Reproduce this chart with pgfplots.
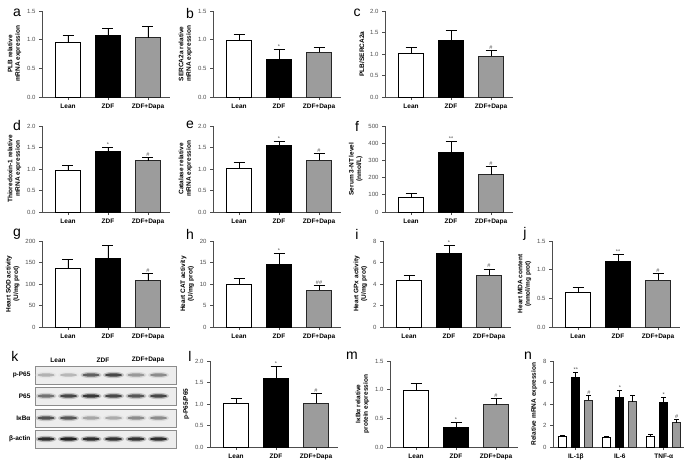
\documentclass[border=0pt]{standalone}
\usepackage{fontspec}
\setmainfont{Liberation Sans}
\usepackage{pgfplots}
\pgfplotsset{compat=1.18}

\definecolor{axgray}{HTML}{4D4D4D}
\definecolor{dapa}{HTML}{9C9C9C}

\pgfplotsset{
  panel/.style={
    scale only axis, width=128pt, height=86pt,
    anchor=south west,
    axis x line*=bottom, axis y line*=left,
    axis line style={axgray, line width=0.9pt},
    xmin=-0.65, xmax=2.55, ymin=0,
    xtick={0,1,2}, xticklabels={Lean,ZDF,ZDF+Dapa},
    xticklabel style={font=\fontsize{6.5}{7}\selectfont\bfseries},
    yticklabel style={font=\fontsize{6}{7}\selectfont, text=axgray},
    ylabel style={font=\fontsize{6.5}{7.5}\selectfont\bfseries, align=center},
    ylabel shift=-1pt,
    tick align=outside, major tick length=3pt,
    tick style={axgray, line width=0.8pt},
    /pgf/number format/assume math mode=true,
    clip=false,
  },
  dec/.style={yticklabel style={/pgf/number format/.cd, fixed, fixed zerofill, precision=1}},
  bstyle/.style={ybar, bar width=0.62, bar shift=0pt, line width=0.9pt,
    error bars/y dir=plus, error bars/y explicit,
    error bars/error mark options={rotate=90, mark size=5.5pt, line width=0.9pt, black},
    error bars/error bar style={line width=0.9pt, black}},
  wbar/.style={bstyle, draw=black, fill=white},
  kbar/.style={bstyle, draw=black, fill=black},
  gbar/.style={bstyle, draw=black!85, fill=dapa},
}
\newcommand{\sig}[3]{\node[font=\fontsize{5.5}{5.5}\selectfont, text=axgray, anchor=south, inner sep=0.8pt] at (axis cs:#1,#2) {#3};}
\newcommand{\plet}[3]{\node[font=\fontsize{14}{14}\selectfont] at (#1pt,-#2pt) {#3};}

\begin{document}
\begin{tikzpicture}
\path[use as bounding box] (0,0) rectangle (685pt,-460pt);

% ---------- row 1 ----------
\plet{17}{13}{a}\plet{190}{13}{b}\plet{357}{13}{c}
\begin{axis}[panel, dec, at={(42pt,-97pt)}, ymax=1.5, ytick={0,0.5,1,1.5},
  ylabel={PLB relative\\mRNA expression}]
\addplot[wbar] coordinates {(0,0.96) +- (0,0.12)};
\addplot[kbar] coordinates {(1,1.07) +- (0,0.13)};
\addplot[gbar] coordinates {(2,1.03) +- (0,0.20)};
\end{axis}
\begin{axis}[panel, dec, at={(213pt,-97pt)}, ymax=1.5, ytick={0,0.5,1,1.5},
  ylabel={SERCA2a relative\\mRNA expression}]
\addplot[wbar] coordinates {(0,0.98) +- (0,0.11)};
\addplot[kbar] coordinates {(1,0.65) +- (0,0.18)};
\addplot[gbar] coordinates {(2,0.78) +- (0,0.09)};
\sig{1}{0.83}{*}
\end{axis}
\begin{axis}[panel, dec, at={(385pt,-97pt)}, ymax=2, ytick={0,0.5,1,1.5,2},
  ylabel={PLB/SERCA2a}]
\addplot[wbar] coordinates {(0,1.01) +- (0,0.15)};
\addplot[kbar] coordinates {(1,1.32) +- (0,0.23)};
\addplot[gbar] coordinates {(2,0.95) +- (0,0.14)};
\sig{2}{1.09}{\#}
\end{axis}

% ---------- row 2 ----------
\plet{17}{125}{d}\plet{190}{125}{e}\plet{357}{126}{f}
\begin{axis}[panel, dec, at={(42pt,-212pt)}, ymax=2, ytick={0,0.5,1,1.5,2},
  ylabel={Thioredoxin-1 relative\\mRNA expression}]
\addplot[wbar] coordinates {(0,0.97) +- (0,0.11)};
\addplot[kbar] coordinates {(1,1.40) +- (0,0.11)};
\addplot[gbar] coordinates {(2,1.19) +- (0,0.08)};
\sig{1}{1.51}{*}\sig{2}{1.27}{\#}
\end{axis}
\begin{axis}[panel, dec, at={(213pt,-212pt)}, ymax=2, ytick={0,0.5,1,1.5,2},
  ylabel={Catalase relative\\mRNA expression}]
\addplot[wbar] coordinates {(0,1.02) +- (0,0.14)};
\addplot[kbar] coordinates {(1,1.54) +- (0,0.09)};
\addplot[gbar] coordinates {(2,1.20) +- (0,0.17)};
\sig{1}{1.63}{*}\sig{2}{1.37}{\#}
\end{axis}
\begin{axis}[panel, at={(385pt,-212pt)}, ymax=500, ytick={0,100,200,300,400,500},
  ylabel={Serum 3-NT level\\(nmol/L)}]
\addplot[wbar] coordinates {(0,83) +- (0,25)};
\addplot[kbar] coordinates {(1,346) +- (0,64)};
\addplot[gbar] coordinates {(2,217) +- (0,46)};
\sig{1}{410}{**}\sig{2}{263}{\#}
\end{axis}

% ---------- row 3 ----------
\plet{17}{234}{g}\plet{190}{234}{h}\plet{357}{234}{i}\plet{525}{234}{j}
\begin{axis}[panel, at={(42pt,-327pt)}, ymax=200, ytick={0,50,100,150,200},
  ylabel={Heart SOD activity\\(U/mg prot)}]
\addplot[wbar] coordinates {(0,136) +- (0,22)};
\addplot[kbar] coordinates {(1,160) +- (0,30)};
\addplot[gbar] coordinates {(2,108) +- (0,17)};
\sig{2}{125}{\#}
\end{axis}
\begin{axis}[panel, at={(213pt,-327pt)}, ymax=20, ytick={0,5,10,15,20},
  ylabel={Heart CAT activity\\(U/mg prot)}]
\addplot[wbar] coordinates {(0,9.8) +- (0,1.5)};
\addplot[kbar] coordinates {(1,14.6) +- (0,2.6)};
\addplot[gbar] coordinates {(2,8.5) +- (0,1.2)};
\sig{1}{17.2}{*}\sig{2}{9.7}{\#\#}
\end{axis}
\begin{axis}[panel, at={(383pt,-327pt)}, ymax=8, ytick={0,2,4,6,8},
  ylabel={Heart GPx activity\\(U/mg prot)}]
\addplot[wbar] coordinates {(0,4.3) +- (0,0.5)};
\addplot[kbar] coordinates {(1,6.8) +- (0,0.8)};
\addplot[gbar] coordinates {(2,4.8) +- (0,0.6)};
\sig{1}{7.6}{*}\sig{2}{5.4}{\#}
\end{axis}
\begin{axis}[panel, dec, at={(552pt,-327pt)}, ymax=1.5, ytick={0,0.5,1,1.5},
  ylabel={Heart MDA content\\(nmol/mg prot)}]
\addplot[wbar] coordinates {(0,0.60) +- (0,0.09)};
\addplot[kbar] coordinates {(1,1.15) +- (0,0.12)};
\addplot[gbar] coordinates {(2,0.82) +- (0,0.11)};
\sig{1}{1.27}{**}\sig{2}{0.93}{\#}
\end{axis}

% ---------- row 4 ----------
\plet{15}{356}{k}\plet{190}{356}{l}\plet{352}{356}{m}\plet{528}{356}{n}
% western blot
\foreach \xc/\hd in {58/Lean, 103/ZDF, 148/ZDF+Dapa}
  \node[font=\fontsize{6.5}{7}\selectfont\bfseries] at (\xc pt,-360pt) {\hd};
\foreach \yc/\lab/\ints in {375/p-P65/{30,28,62,72,40,45},
                             396/P65/{55,72,78,72,66,72},
                             418/IκBα/{68,66,35,33,45,45},
                             439/β-actin/{82,86,82,80,80,82}} {
  \filldraw[fill=black!7, draw=black!45, line width=0.5pt]
    (35pt,-\yc pt+9pt) rectangle (176pt,-\yc pt-9pt);
  \node[anchor=east, font=\fontsize{6.5}{7}\selectfont\bfseries] at (34pt,-\yc pt) {\lab};
  \foreach \i [count=\k] in \ints {
    \pgfmathsetmacro{\xx}{46+22.5*(\k-1)}
    \pgfmathtruncatemacro{\hh}{\i*0.35}
    \fill[black!\hh] (\xx pt,-\yc pt) ellipse (10.5pt and 3.2pt);
    \fill[black!\i] (\xx pt,-\yc pt) ellipse (8.5pt and 1.7pt);
  }
}
\begin{axis}[panel, dec, at={(210pt,-447pt)}, ymax=2, ytick={0,0.5,1,1.5,2},
  ylabel={p-P65/P65}]
\addplot[wbar] coordinates {(0,1.01) +- (0,0.11)};
\addplot[kbar] coordinates {(1,1.59) +- (0,0.29)};
\addplot[gbar] coordinates {(2,1.02) +- (0,0.22)};
\sig{1}{1.88}{*}\sig{2}{1.24}{\#}
\end{axis}
\begin{axis}[panel, dec, at={(390pt,-447pt)}, ymax=1.5, ytick={0,0.5,1,1.5},
  ylabel={IκBα relative\\protein expression}]
\addplot[wbar] coordinates {(0,0.98) +- (0,0.12)};
\addplot[kbar] coordinates {(1,0.34) +- (0,0.09)};
\addplot[gbar] coordinates {(2,0.74) +- (0,0.11)};
\sig{1}{0.43}{*}\sig{2}{0.85}{\#}
\end{axis}
\begin{axis}[panel, at={(553pt,-447pt)}, width=131pt, xmin=-0.52, xmax=2.46,
  ymax=8, ytick={0,2,4,6,8}, xticklabels={IL-1β,IL-6,TNF-α},
  ylabel={Relative mRNA expression}]
\addplot[wbar, bar width=0.18, error bars/error mark options={rotate=90, mark size=2.5pt, line width=0.9pt, black}]
  coordinates {(-0.295,1.0) +- (0,0.12) (0.705,0.9) +- (0,0.1) (1.705,1.0) +- (0,0.14)};
\addplot[kbar, bar width=0.18, error bars/error mark options={rotate=90, mark size=2.5pt, line width=0.9pt, black}]
  coordinates {(0,6.45) +- (0,0.5) (1,4.6) +- (0,0.7) (2,4.1) +- (0,0.55)};
\addplot[gbar, bar width=0.18, error bars/error mark options={rotate=90, mark size=2.5pt, line width=0.9pt, black}]
  coordinates {(0.295,4.35) +- (0,0.45) (1.295,4.2) +- (0,0.6) (2.295,2.25) +- (0,0.3)};
\sig{0}{6.95}{**}\sig{0.295}{4.8}{\#}\sig{1}{5.3}{*}\sig{2}{4.65}{*}\sig{2.295}{2.55}{\#}
\end{axis}
\end{tikzpicture}
\end{document}
